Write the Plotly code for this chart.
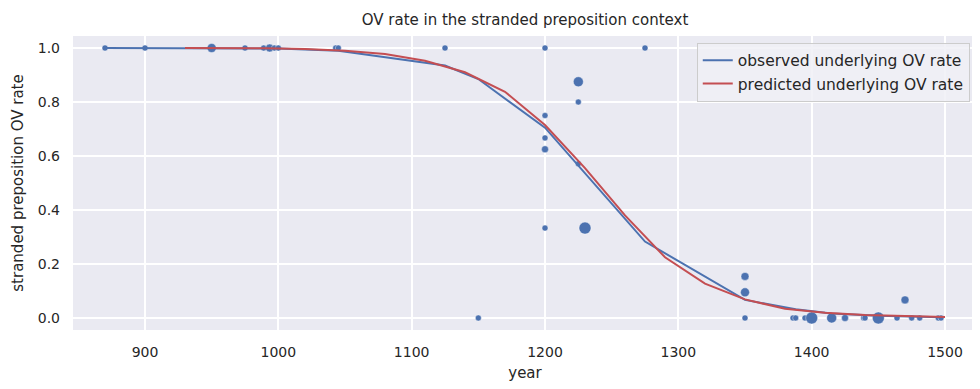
import plotly.graph_objects as go

# scatter data: year, OV rate, token count (marker size class)
pt_year = [870, 900, 950, 975, 989, 993.5, 997, 1000, 1043, 1045, 1125, 1150,
           1200, 1200, 1200, 1200, 1200, 1225, 1225, 1225, 1230, 1275,
           1350, 1350, 1350, 1386, 1388, 1395, 1400, 1415, 1425, 1439, 1440,
           1450, 1464, 1470, 1475, 1481, 1495, 1497]
pt_rate = [1.0, 1.0, 1.0, 1.0, 1.0, 1.0, 1.0, 1.0, 1.0, 1.0, 1.0, 0.0,
           1.0, 0.75, 0.667, 0.625, 0.333, 0.875, 0.8, 0.571, 0.333, 1.0,
           0.154, 0.095, 0.0, 0.0, 0.0, 0.0, 0.0, 0.0, 0.0, 0.0, 0.0,
           0.0, 0.0, 0.067, 0.0, 0.0, 0.0, 0.0]
pt_size = [6, 6, 9, 6, 6, 8, 6, 6, 6, 6, 6, 6,
           6, 6, 6, 7, 6, 10, 6, 6, 12, 6,
           8, 9, 6, 6, 6, 6, 12, 10, 7, 6, 6,
           12, 6, 8, 6, 6, 6, 6]

obs_year = [870, 900, 950, 1000, 1045, 1125, 1150, 1200, 1275, 1350, 1388, 1400, 1415, 1450, 1497]
obs_rate = [1.0, 1.0, 1.0, 0.998, 0.99, 0.935, 0.885, 0.705, 0.283, 0.067, 0.032, 0.025, 0.017, 0.008, 0.003]

pred_year = [930, 960, 990, 1020, 1050, 1080, 1110, 1140, 1170, 1200, 1230, 1260, 1290, 1320,
             1350, 1380, 1410, 1440, 1470, 1500]
pred_rate = [1.0, 1.0, 0.999, 0.996, 0.99, 0.978, 0.953, 0.91, 0.838, 0.715, 0.555, 0.38, 0.225, 0.127,
             0.069, 0.034, 0.019, 0.011, 0.007, 0.004]

x_ticks = [900, 1000, 1100, 1200, 1300, 1400, 1500]
y_ticks = [0.0, 0.2, 0.4, 0.6, 0.8, 1.0]

BLUE = "#4C72B0"
RED = "#C44E52"
TXT = "#262626"

W, H = 980, 389

fig = go.Figure()
fig.add_trace(go.Scatter(
    x=pt_year, y=pt_rate, mode="markers", showlegend=False, opacity=1,
    marker=dict(color=BLUE, size=pt_size, opacity=1, line=dict(color="white", width=0.4)),
))
fig.add_trace(go.Scatter(
    x=obs_year, y=obs_rate, mode="lines", name="observed underlying OV rate",
    line=dict(color=BLUE, width=2),
))
fig.add_trace(go.Scatter(
    x=pred_year, y=pred_rate, mode="lines", name="predicted underlying OV rate",
    line=dict(color=RED, width=2),
))

fig.update_layout(
    width=W, height=H,
    margin=dict(l=65, r=11, t=28, b=67, autoexpand=False),
    paper_bgcolor="white",
    plot_bgcolor="#EAEAF2",
    font=dict(family="DejaVu Sans", size=14, color=TXT),
    title=dict(text="OV rate in the stranded preposition context", x=0.5, xanchor="center",
               xref="paper", y=1 - 12 / H, yanchor="middle", font=dict(size=15, color=TXT)),
    legend=dict(x=0.992, y=0.977, xanchor="right", yanchor="top",
                bgcolor="rgba(240,240,246,0.85)", bordercolor="#cccccc", borderwidth=1,
                font=dict(size=15.5, color=TXT), tracegroupgap=0, itemwidth=30),
    xaxis=dict(range=[846, 1524], tickvals=x_ticks, ticktext=[str(v) for v in x_ticks],
               showgrid=True, gridcolor="white", gridwidth=1.5, zeroline=False,
               showline=False, ticks="", ticklabelstandoff=12, automargin=False,
               tickfont=dict(size=14, color=TXT),
               title=dict(text="year", font=dict(size=15, color=TXT), standoff=8)),
    yaxis=dict(range=[-0.0445, 1.0445], tickvals=y_ticks, ticktext=[f"{v:.1f}" for v in y_ticks],
               showgrid=True, gridcolor="white", gridwidth=1.5, zeroline=False,
               showline=False, ticks="", ticklabelstandoff=12, automargin=False,
               tickfont=dict(size=14, color=TXT),
               title=dict(text="stranded preposition OV rate", font=dict(size=15, color=TXT), standoff=10)),
)

fig.write_html("out.html")
